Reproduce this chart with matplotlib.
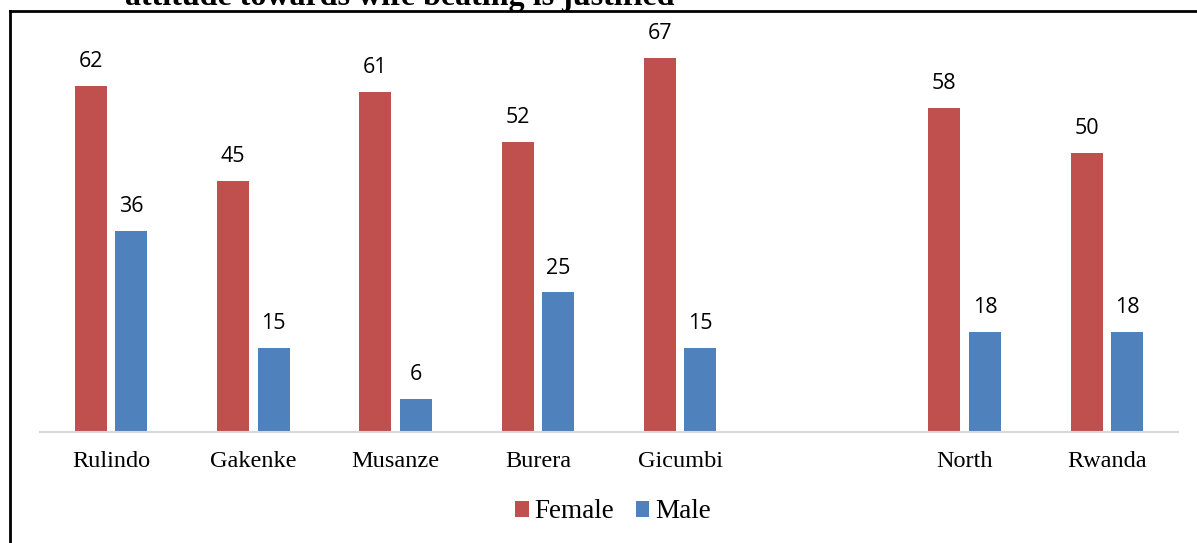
import numpy as np
import matplotlib
matplotlib.use('Agg')
import matplotlib.pyplot as plt
from matplotlib.lines import Line2D

# Daten
categories = ['Rulindo', 'Gakenke', 'Musanze', 'Burera', 'Gicumbi', 'North', 'Rwanda']
female = [62, 45, 61, 52, 67, 58, 50]
male = [36, 15, 6, 25, 15, 18, 18]
series_names = ['Female', 'Male']
title_text = 'attitude towards wife beating is justified'

red = '#C0504D'
blue = '#4F81BD'


def main():
    fig = plt.figure(figsize=(11.97, 5.43), dpi=100)
    ax = fig.add_axes([40 / 1197, 1 - 432 / 543, 1138 / 1197, 413 / 543])

    # Leere Kategorie zwischen Gicumbi und North
    idx = np.arange(len(categories))
    pos = np.where(idx >= 5, idx + 1, idx)

    width = 0.225
    off = 0.143
    b1 = ax.bar(pos - off, female, width, color=red, label=series_names[0])
    b2 = ax.bar(pos + off, male, width, color=blue, label=series_names[1])

    for bars, vals in ((b1, female), (b2, male)):
        for rect, v in zip(bars, vals):
            ax.annotate(f"{v}", (rect.get_x() + rect.get_width() / 2, v),
                        textcoords="offset points", xytext=(0, 10),
                        ha='center', va='bottom', fontsize=15.5,
                        family='Open Sans', color='black')

    ax.set_xlim(-0.5, 7.5)
    ax.set_ylim(0, 74)
    ax.set_xticks(pos)
    ax.set_xticklabels(categories, family='Liberation Serif', fontsize=17.5)
    ax.tick_params(axis='x', length=0, pad=14)
    ax.set_yticks([])
    for s in ('top', 'right', 'left'):
        ax.spines[s].set_visible(False)
    ax.spines['bottom'].set_color('#D9D9D9')
    ax.spines['bottom'].set_linewidth(1.5)

    fig.legend(loc='center', bbox_to_anchor=(613 / 1197, 1 - 512 / 543),
               ncol=2, frameon=False, handlelength=0.5, handleheight=0.5,
               handletextpad=0.2, columnspacing=0.8,
               prop={'family': 'Liberation Serif', 'size': 19.5})

    # Abgeschnittener Titel oben
    fig.text(125 / 1197, 1 - 5 / 543, title_text, family='Liberation Serif',
             fontweight='bold', fontsize=23, ha='left', va='baseline')

    # Rahmen
    fig.add_artist(Line2D([10 / 1197, 10 / 1197], [0, 1 - 11 / 543],
                          transform=fig.transFigure, color='black', lw=2))
    fig.add_artist(Line2D([10 / 1197, 1], [1 - 11 / 543, 1 - 11 / 543],
                          transform=fig.transFigure, color='black', lw=2))

    fig.savefig('out.png', dpi=100)


if __name__ == '__main__':
    main()
